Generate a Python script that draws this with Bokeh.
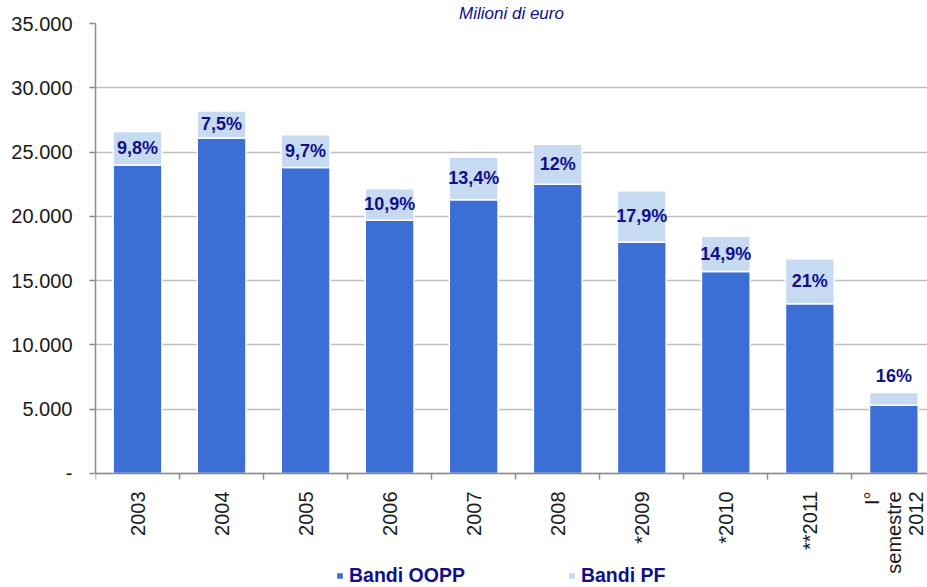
import math
from bokeh.plotting import figure
from bokeh.models import (Range1d, FixedTicker, Title, ColumnDataSource,
                          Legend, LegendItem)
from bokeh.core.properties import value
from bokeh.embed import file_html
from bokeh.resources import INLINE

# ---- data (milioni di euro) ----
categories = ["2003", "2004", "2005", "2006", "2007", "2008",
              "*2009", "*2010", "**2011", "I°\nsemestre\n2012"]
bandi_oopp = [24000, 26100, 23800, 19700, 21300, 22500, 18000, 15700, 13200, 5300]
bandi_pf = [2600, 2100, 2550, 2450, 3300, 3100, 4000, 2750, 3500, 1000]
pct_labels = ["9,8%", "7,5%", "9,7%", "10,9%", "13,4%", "12%",
              "17,9%", "14,9%", "21%", "16%"]
y_ticks = [0, 5000, 10000, 15000, 20000, 25000, 30000, 35000]
y_tick_labels = ["-", "5.000", "10.000", "15.000", "20.000", "25.000", "30.000", "35.000"]
subtitle = "Milioni di euro"
series_names = ["Bandi OOPP", "Bandi PF"]

DARK = "#3B6FD6"
LIGHT = "#C6DAF2"
NAVY = "#10108A"
FONT = "Liberation Sans"
AXIS_GREY = "#8C8C8C"

n = len(categories)
xs = list(range(n))
totals = [a + b for a, b in zip(bandi_oopp, bandi_pf)]
label_y = [a + b / 2 if b >= 1500 else a + b + 1250 for a, b in zip(bandi_oopp, bandi_pf)]

src = ColumnDataSource(dict(x=xs, oopp=bandi_oopp, total=totals,
                            ly=label_y, txt=pct_labels))

# the frame reaches the bottom of the page; the category axis sits at y = 0
p = figure(width=927, height=587, output_backend="svg", toolbar_location=None,
           x_range=Range1d(-0.5, 9.4), y_range=Range1d(-8870, 35000),
           min_border_left=95, min_border_right=0, min_border_top=0,
           min_border_bottom=0)
p.outline_line_color = None
p.background_fill_color = "white"
p.border_fill_color = "white"

r1 = p.vbar(x="x", top="oopp", bottom=0, width=0.58, source=src,
            fill_color=DARK, line_color="white", line_width=1.5)
r2 = p.vbar(x="x", top="total", bottom="oopp", width=0.58, source=src,
            fill_color=LIGHT, line_color="white", line_width=1.5)

p.text(x="x", y="ly", text="txt", source=src, text_font=value(FONT),
       text_font_style="bold", text_font_size="18px", text_color=NAVY,
       text_align="center", text_baseline="middle")

# x axis
p.xaxis.fixed_location = 0
p.xaxis.ticker = FixedTicker(ticks=xs, minor_ticks=[i - 0.5 for i in range(n + 1)])
p.xaxis.major_label_overrides = {i: c for i, c in enumerate(categories)}
p.xaxis.major_label_orientation = math.pi / 2
p.xaxis.major_tick_out = 0
p.xaxis.major_tick_in = 0
p.xaxis.minor_tick_out = 6
p.xaxis.minor_tick_in = 0
p.xaxis.minor_tick_line_color = AXIS_GREY
p.xaxis.minor_tick_line_width = 1.5
p.xaxis.axis_line_color = AXIS_GREY
p.xaxis.axis_line_width = 1.5
p.xaxis.major_label_text_font = FONT
p.xaxis.major_label_text_font_size = "20px"
p.xaxis.major_label_text_color = "#1A1A1A"
p.xaxis.major_label_text_line_height = 1.0
p.xaxis.major_label_standoff = 12

# y axis
p.yaxis.bounds = (0, 35000)
p.yaxis.ticker = FixedTicker(ticks=y_ticks)
p.yaxis.major_label_overrides = {v: l for v, l in zip(y_ticks, y_tick_labels)}
p.yaxis.minor_tick_line_color = None
p.yaxis.major_tick_out = 6
p.yaxis.major_tick_in = 0
p.yaxis.major_tick_line_color = AXIS_GREY
p.yaxis.major_tick_line_width = 1.5
p.yaxis.axis_line_color = AXIS_GREY
p.yaxis.axis_line_width = 1.5
p.yaxis.major_label_text_font = FONT
p.yaxis.major_label_text_font_size = "20px"
p.yaxis.major_label_text_color = "#1A1A1A"
p.yaxis.major_label_standoff = 17

p.xgrid.visible = False
p.ygrid.grid_line_color = "#BFBFBF"
p.ygrid.grid_line_width = 1.5

# subtitle
p.add_layout(Title(text=subtitle, align="center", text_font=FONT,
                   text_font_style="italic", text_font_size="17px",
                   text_color=NAVY, standoff=2, offset=0), "above")

legend = Legend(items=[LegendItem(label=series_names[0], renderers=[r1]),
                       LegendItem(label=series_names[1], renderers=[r2])],
                orientation="horizontal", location=(240, 0),
                background_fill_alpha=0, border_line_color=None,
                label_text_font=FONT, label_text_font_style="bold",
                label_text_font_size="19.5px", label_text_color=NAVY,
                glyph_width=9, glyph_height=9, label_standoff=5,
                label_height=19, spacing=102, padding=1, margin=0)
p.add_layout(legend, "center")

open("out.html", "w").write(file_html(p, INLINE))
